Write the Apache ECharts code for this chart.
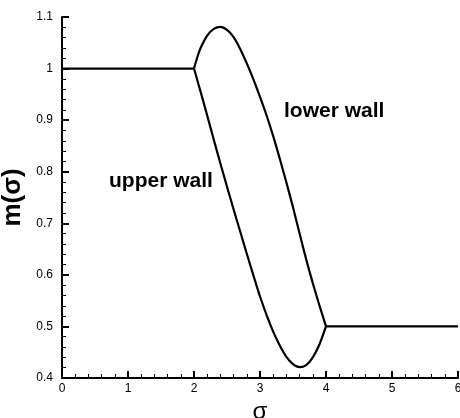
<!DOCTYPE html>
<html>
<head>
<meta charset="utf-8">
<script src="https://cdn.jsdelivr.net/npm/echarts@6/dist/echarts.min.js"></script>
<style>
  html, body { margin: 0; padding: 0; background: #fff; }
  #chart { width: 460px; height: 418px; }
</style>
</head>
<body>
<div id="chart"></div>
<script>
// m(sigma) profile: flat plateaus joined by the two wall curves
const plateauLeftX = [0, 2];
const plateauLeftY = [1.0, 1.0];
const plateauRightX = [4, 6];
const plateauRightY = [0.5, 0.5];

const lowerWallX = [2.0, 2.05, 2.1, 2.2, 2.3, 2.4, 2.5, 2.6, 2.7, 2.8, 2.9, 3.0, 3.1, 3.2, 3.3, 3.4, 3.5, 3.6, 3.7, 3.8, 3.9, 4.0];
const lowerWallY = [1.0, 1.022, 1.04, 1.064, 1.077, 1.081, 1.075, 1.061, 1.038, 1.01, 0.979, 0.945, 0.909, 0.869, 0.825, 0.779, 0.731, 0.68, 0.63, 0.584, 0.541, 0.5];

const upperWallX = [2.0, 2.1, 2.2, 2.3, 2.4, 2.5, 2.6, 2.7, 2.8, 2.9, 3.0, 3.1, 3.2, 3.3, 3.4, 3.5, 3.6, 3.7, 3.8, 3.9, 4.0];
const upperWallY = [1.0, 0.955, 0.909, 0.862, 0.816, 0.771, 0.727, 0.684, 0.641, 0.599, 0.558, 0.522, 0.49, 0.463, 0.441, 0.427, 0.421, 0.425, 0.44, 0.465, 0.5];

const xTicks = ['0', '1', '2', '3', '4', '5', '6'];
const yTicks = ['0.4', '0.5', '0.6', '0.7', '0.8', '0.9', '1', '1.1'];

const zip = (xs, ys) => xs.map((x, i) => [x, ys[i]]);

const lineStyle = { color: '#000', width: 2.2 };
const baseSeries = {
  type: 'line',
  showSymbol: false,
  symbol: 'none',
  lineStyle: lineStyle,
  silent: true,
  animation: false
};

const axisCommon = {
  axisLine: { show: true, onZero: false, lineStyle: { color: '#000', width: 2 } },
  axisTick: { show: true, inside: true, length: 7, lineStyle: { color: '#000', width: 2 } },
  minorTick: { show: true, splitNumber: 5, length: 4, lineStyle: { color: '#000', width: 1 } },
  splitLine: { show: false },
  minorSplitLine: { show: false }
};

const chart = echarts.init(document.getElementById('chart'), null, { renderer: 'canvas' });
chart.setOption({
  animation: false,
  grid: { left: 62, top: 17, width: 396, height: 361, containLabel: false, outerBoundsMode: 'none' },
  xAxis: Object.assign({
    type: 'value',
    min: 0, max: 6, interval: 1,
    name: 'σ',
    nameLocation: 'middle',
    nameGap: 16,
    nameTextStyle: { fontFamily: 'Liberation Sans', fontSize: 24, color: '#000' },
    axisLabel: {
      color: '#000', fontFamily: 'Liberation Sans', fontSize: 12, margin: 5,
      formatter: (v) => xTicks[Math.round(v)]
    }
  }, axisCommon),
  yAxis: Object.assign({
    type: 'value',
    min: 0.4, max: 1.1, interval: 0.1,
    name: 'm(σ)',
    nameLocation: 'middle',
    nameGap: 30,
    nameRotate: 90,
    nameTextStyle: { fontFamily: 'Liberation Sans', fontSize: 26, fontWeight: 'bold', color: '#000' },
    axisLabel: {
      color: '#000', fontFamily: 'Liberation Sans', fontSize: 12, margin: 9,
      formatter: (v) => yTicks[Math.round((v - 0.4) * 10)]
    }
  }, axisCommon),
  series: [
    Object.assign({}, baseSeries, { data: zip(plateauLeftX, plateauLeftY) }),
    Object.assign({}, baseSeries, { data: zip(plateauRightX, plateauRightY) }),
    Object.assign({}, baseSeries, { data: zip(lowerWallX, lowerWallY), smooth: 0.3 }),
    Object.assign({}, baseSeries, { data: zip(upperWallX, upperWallY), smooth: 0.3 })
  ],
  graphic: [
    {
      type: 'text', left: 109, top: 171,
      style: { text: 'upper wall', font: 'bold 21px "Liberation Sans"', fill: '#000' }
    },
    {
      type: 'text', left: 284, top: 101,
      style: { text: 'lower wall', font: 'bold 21px "Liberation Sans"', fill: '#000' }
    }
  ]
});
</script>
</body>
</html>
